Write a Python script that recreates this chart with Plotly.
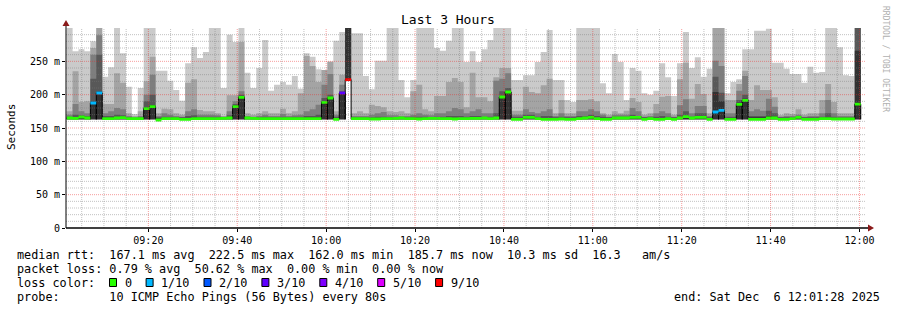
import pandas as pd
import plotly.graph_objects as go

# ---------------- data ----------------
TITLE = "Last 3 Hours"
Y_TITLE = "Seconds"
RANGE_START = "2025-12-06 09:01:28"
RANGE_END = "2025-12-06 12:01:28"
FIRST_SAMPLE = "2025-12-06 09:01:37"
STEP_SECONDS = 80

# smoke bands: band1 = outermost (min..max of pings) ... band5 = innermost
band1_ms = [
    300, 265, 268, 265, 280, 300, 227, 241, 300, 262,
    212, 171, 210, 300, 300, 236, 236, 221, 207, 191,
    247, 271, 255, 264, 300, 300, 210, 290, 279, 300,
    233, 210, 240, 282, 206, 215, 219, 215, 228, 209,
    262, 257, 238, 237, 250, 281, 294, 300, 292, 292,
    228, 208, 251, 251, 300, 300, 222, 196, 222, 300,
    300, 300, 270, 266, 281, 300, 300, 249, 265, 249,
    268, 282, 300, 300, 300, 222, 222, 229, 229, 249,
    264, 297, 222, 222, 192, 189, 300, 300, 300, 300,
    217, 202, 261, 249, 192, 240, 236, 202, 200, 206,
    247, 226, 198, 247, 294, 240, 256, 227, 239, 300,
    300, 202, 219, 223, 268, 268, 296, 296, 299, 248,
    248, 239, 231, 231, 218, 242, 233, 234, 300, 300,
    271, 229, 228, 300,
]
band2_ms = [
    175, 235, 189, 190, 270, 300, 186, 186, 232, 218,
    172, 168, 175, 220, 257, 172, 179, 178, 172, 170,
    218, 223, 177, 175, 175, 172, 168, 199, 199, 279,
    172, 170, 172, 175, 172, 172, 179, 172, 175, 202,
    258, 243, 219, 237, 249, 175, 230, 300, 172, 175,
    172, 185, 183, 181, 175, 174, 175, 172, 205, 215,
    178, 175, 198, 198, 219, 225, 219, 181, 233, 196,
    196, 190, 226, 240, 240, 176, 176, 212, 204, 202,
    214, 224, 172, 192, 172, 172, 192, 192, 193, 190,
    172, 170, 175, 172, 176, 195, 189, 170, 172, 186,
    197, 198, 170, 223, 248, 194, 216, 201, 172, 300,
    300, 192, 192, 216, 236, 192, 214, 207, 207, 196,
    169, 172, 171, 178, 170, 172, 172, 192, 216, 189,
    172, 172, 172, 300,
]
band3_ms = [
    170, 186, 175, 172, 260, 289, 172, 175, 180, 178,
    168, 166, 168, 200, 230, 168, 172, 170, 168, 167,
    175, 178, 170, 170, 170, 169, 167, 175, 190, 205,
    168, 167, 168, 170, 168, 168, 171, 168, 169, 170,
    175, 178, 185, 215, 231, 170, 215, 300, 168, 168,
    168, 170, 172, 174, 169, 169, 168, 168, 170, 172,
    170, 169, 172, 172, 175, 180, 178, 172, 175, 178,
    172, 172, 221, 224, 232, 170, 170, 178, 174, 172,
    175, 178, 168, 172, 168, 168, 175, 175, 178, 175,
    170, 167, 170, 170, 170, 180, 175, 167, 168, 172,
    175, 172, 167, 184, 193, 172, 183, 183, 168, 251,
    243, 172, 172, 206, 228, 175, 178, 176, 194, 182,
    167, 168, 168, 170, 167, 168, 168, 172, 192, 172,
    168, 168, 168, 300,
]
band4_ms = [
    167, 170, 169, 168, 224, 260, 168, 168, 170, 169,
    166, 165, 166, 190, 200, 166, 167, 167, 166, 166,
    168, 169, 167, 167, 167, 167, 166, 169, 186, 200,
    166, 166, 166, 167, 166, 166, 167, 166, 167, 167,
    168, 168, 170, 195, 200, 167, 205, 300, 166, 166,
    166, 166, 167, 167, 166, 166, 166, 166, 167, 167,
    167, 166, 167, 167, 168, 168, 168, 167, 168, 168,
    167, 167, 172, 205, 210, 167, 167, 170, 170, 167,
    168, 168, 166, 167, 166, 166, 168, 168, 170, 168,
    167, 166, 167, 167, 167, 170, 168, 166, 166, 167,
    168, 167, 166, 170, 175, 167, 172, 172, 166, 227,
    203, 167, 167, 192, 200, 168, 168, 168, 176, 172,
    166, 166, 166, 167, 166, 166, 166, 167, 172, 167,
    166, 166, 166, 300,
]
band5_ms = [
    165, 166, 167, 166, 190, 205, 166, 166, 166, 166,
    165, 164.5, 165, 181, 184, 165, 165, 165, 165, 165,
    165, 166, 165, 165, 165, 165, 165, 166, 184, 198,
    165, 165, 165, 165, 165, 165, 165, 165, 165, 165,
    166, 166, 166, 190, 196, 165, 203, 300, 165, 165,
    165, 165, 165, 165, 165, 165, 165, 165, 165, 165,
    165, 165, 165, 165, 165, 165, 165, 165, 165, 165,
    165, 165, 166, 198, 206, 165, 165, 167, 167, 165,
    165, 165, 165, 165, 165, 165, 165, 166, 167, 165,
    165, 165, 166, 166, 166, 167, 167, 165, 165, 165,
    165, 165, 165, 166, 168, 166, 167, 167, 165, 204,
    190, 165, 165, 188, 194, 166, 166, 166, 168, 167,
    165, 165, 165, 166, 165, 165, 165, 165, 166, 165,
    165, 165, 165, 266,
]
smoke_low_ms = [
    163, 163, 163, 163, 163, 163, 163, 163, 163, 163,
    163, 163, 163, 163, 163, 163, 163, 163, 163, 163,
    163, 163, 163, 163, 163, 163, 163, 163, 163, 163,
    163, 163, 163, 163, 163, 163, 163, 163, 163, 163,
    163, 163, 163, 163, 163, 163, 163, 222, 163, 163,
    163, 163, 163, 163, 163, 163, 163, 163, 163, 163,
    163, 163, 163, 163, 163, 163, 163, 163, 163, 163,
    163, 163, 163, 163, 163, 163, 163, 163, 163, 163,
    163, 163, 163, 163, 163, 163, 163, 163, 163, 163,
    163, 163, 163, 163, 163, 163, 163, 163, 163, 163,
    163, 163, 163, 163, 163, 163, 163, 163, 163, 163,
    163, 163, 163, 163, 163, 163, 163, 163, 163, 163,
    163, 163, 163, 163, 163, 163, 163, 163, 163, 163,
    163, 163, 163, 163,
]
median_ms = [
    165, 164.5, 166.5, 165, 187.5, 202.5, 164, 164, 165, 165.5,
    164, 164, 164, 179, 182, 162, 164, 164, 164, 163,
    163, 164, 164, 164, 164, 164, 164.5, 165, 182, 196,
    165, 164.5, 164, 164, 164, 164, 164, 164, 164, 164,
    164, 164, 164, 188.5, 195, 163, 202.5, 222.5, 164, 164,
    164, 163.5, 163.5, 164, 164, 164.5, 165, 164, 164, 163.5,
    164, 164.5, 164.5, 164, 164, 163.5, 164, 164, 164.5, 164.5,
    165, 164, 165, 196.5, 204, 163, 163, 166, 166, 164,
    163, 163, 163, 163.5, 163, 163, 164, 165, 166, 164,
    163, 163, 165, 165, 165, 166, 166, 163, 164, 163,
    163, 164, 163, 165, 167, 165, 166, 166, 163, 174,
    176.5, 163, 163, 185.5, 191.5, 163, 163, 163, 165, 165,
    163, 163, 164, 166, 163, 163, 163, 164, 164, 163.5,
    163.5, 163.5, 163.5, 185.7,
]
loss_count = [
    0, 0, 0, 0, 1, 1, 0, 0, 0, 0,
    0, 0, 0, 0, 0, 0, 0, 0, 0, 0,
    0, 0, 0, 0, 0, 0, 0, 0, 0, 0,
    0, 0, 0, 0, 0, 0, 0, 0, 0, 0,
    0, 0, 0, 0, 0, 0, 3, 9, 0, 0,
    0, 0, 0, 0, 0, 0, 0, 0, 0, 0,
    0, 0, 0, 0, 0, 0, 0, 0, 0, 0,
    0, 0, 0, 0, 0, 0, 0, 0, 0, 0,
    0, 0, 0, 0, 0, 0, 0, 0, 0, 0,
    0, 0, 0, 0, 0, 0, 0, 0, 0, 0,
    0, 0, 0, 0, 0, 0, 0, 0, 0, 1,
    1, 0, 0, 0, 0, 0, 0, 0, 0, 0,
    0, 0, 0, 0, 0, 0, 0, 0, 0, 0,
    0, 0, 0, 0,
]

LOSS_STEPS = [0, 1, 2, 3, 4, 5, 9]
LOSS_LABELS = ["0", "1/10", "2/10", "3/10", "4/10", "5/10", "9/10"]
LOSS_COLORS = ["#26ff00", "#00b8ff", "#0059ff", "#5e00ff", "#7e00ff", "#dd00ff", "#ff0000"]

Y_TICK_VALUES = [0, 50, 100, 150, 200, 250]
Y_TICK_LABELS = ["0", "50 m", "100 m", "150 m", "200 m", "250 m"]
X_TICK_TIMES = ["2025-12-06 09:20", "2025-12-06 09:40", "2025-12-06 10:00",
                "2025-12-06 10:20", "2025-12-06 10:40", "2025-12-06 11:00",
                "2025-12-06 11:20", "2025-12-06 11:40", "2025-12-06 12:00"]
X_TICK_LABELS = ["09:20", "09:40", "10:00", "10:20", "10:40", "11:00",
                 "11:20", "11:40", "12:00"]

STAT_LINES = [
    "median rtt:  167.1 ms avg  222.5 ms max  162.0 ms min  185.7 ms now  10.3 ms sd  16.3   am/s",
    "packet loss: 0.79 % avg  50.62 % max  0.00 % min  0.00 % now",
]
LOSS_TITLE = "loss color:"
PROBE_TEXT = "probe:       10 ICMP Echo Pings (56 Bytes) every 80s"
END_TEXT = "end: Sat Dec  6 12:01:28 2025"
WATERMARK = "RRDTOOL / TOBI OETIKER"

# ---------------- styling ----------------
SMOKE_COLORS = ["#cacaca", "#a4a4a4", "#7e7e7e", "#585858", "#323232"]
MONO = "DejaVu Sans Mono"
MED_HALF = 2.1
Y_MAX = 300
PLOT_L, PLOT_T, PLOT_W, PLOT_H = 66, 28, 800, 200


def nb(s):
    return s.replace(" ", "\u00a0")


def pxx(px):
    return (px - PLOT_L) / PLOT_W


def pxy(py):
    return (PLOT_T + PLOT_H - py) / PLOT_H


def loss_color(n):
    col = LOSS_COLORS[0]
    for step, c in zip(LOSS_STEPS, LOSS_COLORS):
        if n >= step:
            col = c
    return col


T0 = pd.Timestamp(RANGE_START)


def to_min(t):
    return (pd.Timestamp(t) - T0).total_seconds() / 60.0


X_MAX = to_min(RANGE_END)
n = len(median_ms)
first = to_min(FIRST_SAMPLE)
step_min = STEP_SECONDS / 60.0
xs_edge = [first + step_min * i for i in range(n + 1)]

fig = go.Figure()
bands = [band1_ms, band2_ms, band3_ms, band4_ms, band5_ms]
for tops, color in zip(bands, SMOKE_COLORS):
    # stepped area from the smoke floor to the band top (like rrdtool AREA/STACK)
    fig.add_trace(go.Scatter(
        x=xs_edge, y=list(smoke_low_ms) + [smoke_low_ms[-1]], mode="lines",
        line=dict(width=0, shape="hv"), hoverinfo="skip"))
    fig.add_trace(go.Scatter(
        x=xs_edge, y=[max(t, lo) for t, lo in zip(tops, smoke_low_ms)] + [tops[-1]],
        mode="lines", line=dict(width=0, shape="hv"),
        fill="tonexty", fillcolor=color, hoverinfo="skip"))

# black outline around samples whose median sits well above the smoke floor
floor = min(smoke_low_ms)
ox, oy = [], []
for i, m in enumerate(median_ms):
    if m - floor > 9:
        x0, x1 = xs_edge[i], xs_edge[i + 1]
        ox += [x0, x0, x1, x1, None]
        oy += [floor, m, m, floor, None]
fig.add_trace(go.Scatter(x=ox, y=oy, mode="lines", hoverinfo="skip",
                         line=dict(color="#000000", width=1)))

# median marks coloured by packet loss
for step, color in zip(LOSS_STEPS, LOSS_COLORS):
    mx, my = [], []
    for i, (m, l) in enumerate(zip(median_ms, loss_count)):
        if loss_color(l) != color:
            continue
        x0, x1 = xs_edge[i], xs_edge[i + 1]
        mx += [x0, x1, x1, x0, x0, None]
        my += [m - MED_HALF, m - MED_HALF, m + MED_HALF, m + MED_HALF, m - MED_HALF, None]
    if mx:
        fig.add_trace(go.Scatter(x=mx, y=my, mode="lines", fill="toself", fillcolor=color,
                                 line=dict(width=0), hoverinfo="skip"))

# grid (drawn above the smoke, as rrdtool does)
major_x = [to_min(t) for t in X_TICK_TIMES]
minor_x = [to_min(t) for t in pd.date_range("2025-12-06 09:05", "2025-12-06 12:00", freq="5min")]
minor_x = [v for v in minor_x if all(abs(v - m) > 1e-6 for m in major_x)]
major_y = [v for v in Y_TICK_VALUES if v > 0]
minor_y = [v for v in range(10, Y_MAX, 10) if v % 50]


def grid_xy(vert, hor):
    xs, ys = [], []
    for t in vert:
        xs += [t, t, None]
        ys += [0, Y_MAX, None]
    for v in hor:
        xs += [0, X_MAX, None]
        ys += [v, v, None]
    return xs, ys


gx, gy = grid_xy(minor_x, minor_y)
fig.add_trace(go.Scatter(x=gx, y=gy, mode="lines", hoverinfo="skip",
                         line=dict(color="rgba(120,120,120,0.45)", width=1, dash="1px,1px")))
gx, gy = grid_xy(major_x, major_y)
fig.add_trace(go.Scatter(x=gx, y=gy, mode="lines", hoverinfo="skip",
                         line=dict(color="rgba(235,40,40,0.45)", width=1, dash="1px,1px")))

shapes = [
    dict(type="line", xref="paper", yref="paper", x0=0, x1=0, y0=0, y1=pxy(25),
         line=dict(color="#000000", width=1)),
    dict(type="line", xref="paper", yref="paper", x0=0, x1=pxx(868), y0=0, y1=0,
         line=dict(color="#000000", width=1.3)),
    dict(type="path", xref="paper", yref="paper",
         path=f"M {pxx(62.5)},{pxy(26)} L {pxx(69.5)},{pxy(26)} L {pxx(66)},{pxy(20)} Z",
         fillcolor="#8b1a1a", line=dict(width=0)),
    dict(type="path", xref="paper", yref="paper",
         path=f"M {pxx(868)},{pxy(224.5)} L {pxx(868)},{pxy(231.5)} L {pxx(874)},{pxy(228)} Z",
         fillcolor="#8b1a1a", line=dict(width=0)),
]

annotations = [
    dict(text=TITLE, xref="paper", yref="paper", x=pxx(448), y=pxy(19),
         xanchor="center", yanchor="middle", showarrow=False,
         font=dict(family=MONO, size=13, color="#000")),
    dict(text=Y_TITLE, xref="paper", yref="paper", x=pxx(11), y=pxy(127),
         xanchor="center", yanchor="middle", textangle=-90, showarrow=False,
         font=dict(family=MONO, size=11, color="#000")),
    dict(text=nb(WATERMARK), xref="paper", yref="paper", x=pxx(886), y=pxy(59),
         xanchor="center", yanchor="middle", textangle=90, showarrow=False,
         font=dict(family=MONO, size=8, color="#b0b0b0")),
]
LEG_FONT = dict(family=MONO, size=11.8, color="#000")
for i, line in enumerate(STAT_LINES):
    annotations.append(dict(text=nb(line), xref="paper", yref="paper", x=pxx(15), y=pxy(255 + 14 * i),
                            xanchor="left", yanchor="middle", showarrow=False, font=LEG_FONT))
annotations.append(dict(text=nb(LOSS_TITLE), xref="paper", yref="paper", x=pxx(15), y=pxy(282.5),
                        xanchor="left", yanchor="middle", showarrow=False, font=LEG_FONT))
annotations.append(dict(text=nb(PROBE_TEXT), xref="paper", yref="paper", x=pxx(15), y=pxy(296.5),
                        xanchor="left", yanchor="middle", showarrow=False, font=LEG_FONT))
annotations.append(dict(text=nb(END_TEXT), xref="paper", yref="paper", x=pxx(882), y=pxy(296.5),
                        xanchor="right", yanchor="middle", showarrow=False, font=LEG_FONT))

xpos = 109.5
for label, color in zip(LOSS_LABELS, LOSS_COLORS):
    shapes.append(dict(type="rect", xref="paper", yref="paper",
                       x0=pxx(xpos), x1=pxx(xpos + 7), y0=pxy(286.5), y1=pxy(278.5),
                       fillcolor=color, line=dict(color="#000000", width=1)))
    annotations.append(dict(text=label, xref="paper", yref="paper", x=pxx(xpos + 13), y=pxy(282.5),
                            xanchor="left", yanchor="middle", showarrow=False, font=LEG_FONT))
    xpos += 14 + len(label) * 7.1 + 15.5

fig.update_layout(
    width=897, height=310,
    margin=dict(l=PLOT_L, r=897 - PLOT_L - PLOT_W, t=PLOT_T, b=310 - PLOT_T - PLOT_H, pad=0),
    paper_bgcolor="#ffffff", plot_bgcolor="#ffffff",
    showlegend=False,
    shapes=shapes, annotations=annotations,
    xaxis=dict(range=[0, X_MAX], tickvals=major_x,
               ticktext=X_TICK_LABELS, ticks="outside", ticklen=3, tickcolor="#000",
               showgrid=False, zeroline=False, showline=False,
               tickfont=dict(family=MONO, size=10, color="#000")),
    yaxis=dict(range=[0, Y_MAX], tickvals=Y_TICK_VALUES, ticktext=Y_TICK_LABELS,
               ticks="outside", ticklen=3, tickcolor="#000",
               showgrid=False, zeroline=False, showline=False,
               tickfont=dict(family=MONO, size=10, color="#000")),
)

fig.write_html("out.html")
